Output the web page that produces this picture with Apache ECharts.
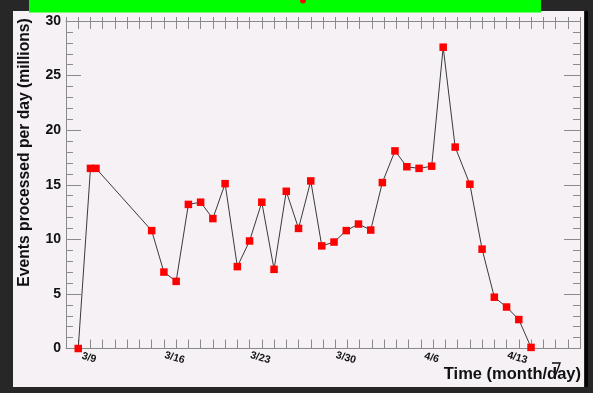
<!DOCTYPE html>
<html>
<head>
<meta charset="utf-8">
<script src="https://cdn.jsdelivr.net/npm/echarts@6/dist/echarts.min.js"></script>
<style>
  html, body { margin: 0; padding: 0; background: #272727; }
  #chart { width: 593px; height: 393px; }
</style>
</head>
<body>
<div id="chart"></div>
<script>
// days counted from 3/9
var days = [-1, 0, 0.45, 5, 6, 7, 8, 9, 10, 11, 12, 13, 14, 15, 16, 17, 18, 18.9, 19.9,
            20.9, 21.9, 22.9, 23.85, 24.88, 25.85, 26.85, 27.88, 28.82, 29.8, 31, 32, 33, 34, 35, 36];
var events = [0, 16.5, 16.5, 10.8, 7.0, 6.15, 13.2, 13.4, 11.9, 15.1, 7.5, 9.85, 13.4, 7.25, 14.4, 11.0, 15.35, 9.4, 9.75,
              10.8, 11.4, 10.85, 15.2, 18.1, 16.65, 16.5, 16.7, 27.6, 18.45, 15.05, 9.1, 4.7, 3.8, 2.65, 0.1];
var labelDays = [0, 7, 14, 21, 28, 35];
var tickLabels = ['3/9', '3/16', '3/23', '3/30', '4/6', '4/13'];

var points = days.map(function (d, i) { return [d, events[i]]; });

var chartDom = document.getElementById('chart');
var myChart = echarts.init(chartDom);
var option;

var axisGray = '#8a8a8a';
var font = 'Liberation Sans';

function frameX(pos, tickLen, inside, showLine) {
  return {
    type: 'value', position: pos, min: -2, max: 40, interval: 1,
    axisLine: { show: showLine, onZero: false, lineStyle: { color: axisGray, width: 1 } },
    axisTick: { show: true, inside: inside, length: tickLen, lineStyle: { color: axisGray } },
    axisLabel: { show: false },
    splitLine: { show: false }
  };
}

option = {
  backgroundColor: '#272727',
  animation: false,
  grid: { left: 66, right: 13, top: 21, bottom: 44.5, containLabel: false },
  xAxis: [
    {
      type: 'value', position: 'bottom', min: -2, max: 40, interval: 1,
      axisLine: { onZero: false, lineStyle: { color: axisGray, width: 1 } },
      axisTick: { inside: true, length: 9, lineStyle: { color: axisGray } },
      axisLabel: {
        margin: 4, rotate: -16, align: 'center', verticalAlign: 'top',
        fontFamily: font, fontWeight: 'bold', fontSize: 10.5, color: '#111',
        formatter: function (v) {
          var k = labelDays.indexOf(v);
          return k >= 0 ? tickLabels[k] : '';
        }
      },
      splitLine: { show: false }
    },
    frameX('top', 8, true, true),
    frameX('top', 4, false, false)
  ],
  yAxis: [
    {
      type: 'value', position: 'left', min: 0, max: 30, interval: 5,
      axisLine: { show: true, onZero: false, lineStyle: { color: axisGray, width: 1 } },
      axisTick: { inside: true, length: 15, lineStyle: { color: axisGray } },
      minorTick: { show: true, splitNumber: 5, length: 7, lineStyle: { color: axisGray } },
      axisLabel: { margin: 5, fontFamily: font, fontWeight: 'bold', fontSize: 14, color: '#111' },
      splitLine: { show: false }
    },
    {
      type: 'value', position: 'right', min: 0, max: 30, interval: 5,
      axisLine: { show: true, onZero: false, lineStyle: { color: axisGray, width: 1 } },
      axisTick: { inside: true, length: 16, lineStyle: { color: axisGray } },
      minorTick: { show: true, splitNumber: 5, length: 7, lineStyle: { color: axisGray } },
      axisLabel: { show: false },
      splitLine: { show: false }
    }
  ],
  graphic: [
    { type: 'rect', z: -10, shape: { x: 13, y: 11, width: 571, height: 376 }, style: { fill: '#f5f1f5' } },
    { type: 'rect', z: -10, shape: { x: 585, y: 11, width: 3, height: 376 }, style: { fill: '#050505' } },
    { type: 'rect', z: 10, shape: { x: 29, y: 0, width: 512, height: 12.5 }, style: { fill: '#00ff00' } },
    { type: 'circle', z: 11, shape: { cx: 303, cy: 0.5, r: 3 }, style: { fill: '#ff0000' } },
    {
      type: 'text', z: 10, x: 25, y: 152.5, rotation: Math.PI / 2,
      style: {
        text: 'Events processed per day (millions)', fill: '#111',
        font: 'bold 15.7px "Liberation Sans"', textAlign: 'center', textVerticalAlign: 'middle'
      }
    },
    {
      type: 'text', z: 10, x: 581, y: 374,
      style: {
        text: 'Time (month/day)', fill: '#111',
        font: 'bold 16.5px "Liberation Sans"', textAlign: 'right', textVerticalAlign: 'middle'
      }
    },
    {
      type: 'polyline', z: 11,
      shape: { points: [[552, 363], [560, 363], [554.5, 378]] },
      style: { stroke: '#111', lineWidth: 1.4, fill: null }
    }
  ],
  series: [
    {
      name: 'events',
      type: 'line',
      xAxisIndex: 0,
      yAxisIndex: 0,
      data: points,
      symbol: 'rect',
      symbolSize: 7.5,
      lineStyle: { color: '#3a3a3a', width: 1 },
      itemStyle: { color: '#ff0000' },
      z: 5
    }
  ]
};

option && myChart.setOption(option);
</script>
</body>
</html>
